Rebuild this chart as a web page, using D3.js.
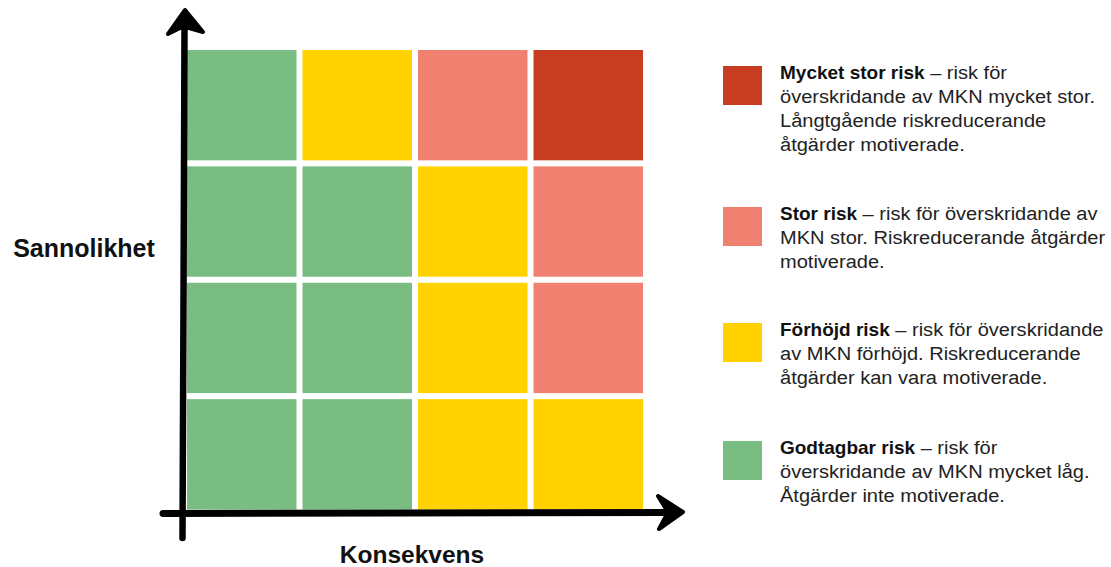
<!DOCTYPE html>
<html><head><meta charset="utf-8">
<script src="https://cdn.jsdelivr.net/npm/d3@7"></script>
<style>html,body{margin:0;padding:0;background:#fff;}svg{display:block;}</style>
</head><body>
<script>
// Data
const consequences = ["1", "2", "3", "4"];          // Konsekvens (x), low -> high
const likelihoods = ["4", "3", "2", "1"];           // Sannolikhet (y), top -> bottom
const riskLevels = [                                 // rows top->bottom, cols left->right
  ["godtagbar", "forhojd", "stor", "mycketstor"],
  ["godtagbar", "godtagbar", "forhojd", "stor"],
  ["godtagbar", "godtagbar", "forhojd", "stor"],
  ["godtagbar", "godtagbar", "forhojd", "forhojd"]
];
const levelKeys = ["mycketstor", "stor", "forhojd", "godtagbar"];
const levelColors = ["#C63D22", "#F0806F", "#FFD200", "#79BD82"];
const legendTitles = ["Mycket stor risk", "Stor risk", "Förhöjd risk", "Godtagbar risk"];
const legendLines = [
  [" – risk för", "överskridande av MKN mycket stor.", "Långtgående riskreducerande", "åtgärder motiverade."],
  [" – risk för överskridande av", "MKN stor. Riskreducerande åtgärder", "motiverade."],
  [" – risk för överskridande", "av MKN förhöjd. Riskreducerande", "åtgärder kan vara motiverade."],
  [" – risk för", "överskridande av MKN mycket låg.", "Åtgärder inte motiverade."]
];
const xLabel = "Konsekvens";
const yLabel = "Sannolikhet";

const W = 1111, H = 567;
const svg = d3.select("body").append("svg").attr("width", W).attr("height", H);

const x = d3.scaleBand().domain(consequences).range([187, 643]).paddingInner(0.052);
const y = d3.scaleBand().domain(likelihoods).range([50, 509.5]).paddingInner(0.052);
const color = d3.scaleOrdinal().domain(levelKeys).range(levelColors);

const cells = [];
riskLevels.forEach((row, ri) => row.forEach((lvl, ci) => cells.push({l: likelihoods[ri], c: consequences[ci], lvl})));
svg.append("g").selectAll("rect").data(cells).join("rect")
  .attr("x", d => x(d.c)).attr("y", d => y(d.l))
  .attr("width", x.bandwidth()).attr("height", y.bandwidth())
  .attr("fill", d => color(d.lvl));

// Axes (hand drawn arrows)
const ax = svg.append("g").attr("stroke", "#000")
  .attr("stroke-linecap", "round").attr("stroke-linejoin", "round");
ax.append("path").attr("fill", "none").attr("d", "M182.5,538 L183.5,300 L184.5,28").attr("stroke-width", 6.5);
ax.append("path").attr("fill", "#000").attr("stroke-width", 4)
  .attr("d", "M185,10 L203,32 L189,28 L180,28 L168,34 Z");
ax.append("path").attr("fill", "none").attr("d", "M163,513.5 L400,513 L668,512.5").attr("stroke-width", 7);
ax.append("path").attr("fill", "#000").attr("stroke-width", 4)
  .attr("d", "M683,512 L658,496 L666,509 L666,516 L659,529 Z");

const font = "'Liberation Sans', Arial, sans-serif";
svg.append("text").attr("x", 84).attr("y", 257).attr("text-anchor", "middle")
  .attr("font-family", font).attr("font-weight", "bold").attr("font-size", 25)
  .attr("fill", "#111").text(yLabel);
svg.append("text").attr("x", 412).attr("y", 563).attr("text-anchor", "middle")
  .attr("font-family", font).attr("font-weight", "bold").attr("font-size", 24.5)
  .attr("fill", "#111").text(xLabel);

// Legend
const legTop = [66, 207, 323, 441];
const lg = svg.append("g");
const tg = svg.append("g").attr("transform", "translate(780,0) scale(1.055,1) translate(-780,0)");
levelKeys.forEach((k, i) => {
  lg.append("rect").attr("x", 723).attr("y", legTop[i]).attr("width", 39).attr("height", 39)
    .attr("fill", levelColors[i]);
  const t = tg.append("text").attr("font-family", font).attr("font-size", 19).attr("fill", "#222");
  const first = t.append("tspan").attr("x", 780).attr("y", legTop[i] + 13.5);
  first.append("tspan").attr("font-weight", "bold").attr("font-size", 18).attr("fill", "#111").text(legendTitles[i]);
  first.append("tspan").text(legendLines[i][0]);
  legendLines[i].slice(1).forEach((ln, j) => {
    t.append("tspan").attr("x", 780).attr("y", legTop[i] + 13.5 + 24 * (j + 1)).text(ln);
  });
});
</script>
</body></html>
